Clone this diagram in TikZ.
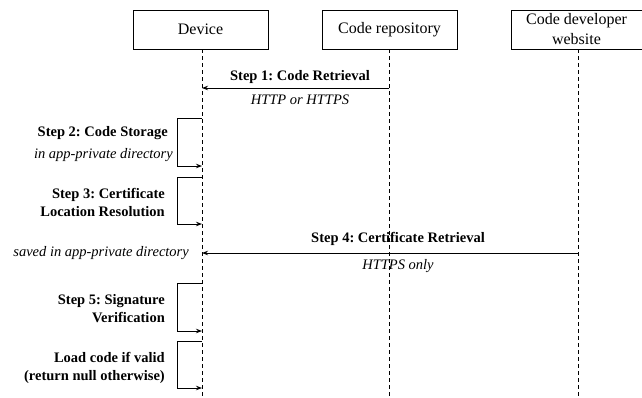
\documentclass[tikz,border=0pt]{standalone}
\usepackage{fontspec}
\setmainfont{Liberation Serif}
\usetikzlibrary{arrows.meta}
\frenchspacing
\begin{document}
\begin{tikzpicture}[x=1pt,y=-1pt,
  actor/.style={draw,line width=0.9pt,minimum width=135pt,minimum height=39pt,inner sep=0pt,align=center,font=\fontsize{16}{20}\selectfont},
  lifeline/.style={line width=0.9pt,dash pattern=on 4pt off 3pt},
  msg/.style={line width=0.9pt,-{Stealth[length=6pt,width=4.5pt]}},
  steplabel/.style={font=\fontsize{14.5}{18}\selectfont\bfseries,inner sep=0pt},
  note/.style={font=\fontsize{14.5}{18}\selectfont\itshape,inner sep=0pt},
  sidelabel/.style={font=\fontsize{14.5}{18}\selectfont\bfseries,inner sep=0pt,align=right,anchor=east}
]
\useasboundingbox (0,0) rectangle (642,397);
% actors
\node[actor] (dev) at (200.5,29.5) {Device};
\node[actor] (repo) at (389.5,29.5) {Code repository};
\node[actor,minimum width=131pt] (web) at (576.5,29.5) {Code developer\\website};
% lifelines
\coordinate (devb) at (202,397);
\coordinate (repob) at (389,397);
\coordinate (webb) at (578,397);
\draw[lifeline] (dev.south -| devb) -- (devb);
\draw[lifeline] (repo.south -| repob) -- (repob);
\draw[lifeline] (web.south -| webb) -- (webb);
% Step 1
\coordinate (s1a) at (389,88);
\coordinate (s1b) at (202,88);
\draw[msg] (s1a) -- (s1b);
\node[steplabel] (s1t) at (300,77) {Step 1: Code Retrieval};
\node[note] (s1n) at (300,100) {HTTP or HTTPS};
% Step 2
\coordinate (s2a) at (202,118);
\coordinate (s2b) at (202,166);
\draw[msg] (s2a) -- (177,118) -- (177,166) -- (s2b);
\node[steplabel,anchor=east] (s2t) at (168,133) {Step 2: Code Storage};
\node[note,anchor=east] (s2n) at (173,155) {in app-private directory};
% Step 3
\coordinate (s3a) at (202,177);
\coordinate (s3b) at (202,224);
\draw[msg] (s3a) -- (177,177) -- (177,224) -- (s3b);
\node[sidelabel] (s3t) at (165,202) {Step 3: Certificate\\Location Resolution};
% Step 4
\coordinate (s4a) at (578,253);
\coordinate (s4b) at (202,253);
\draw[msg] (s4a) -- (s4b);
\node[steplabel] (s4t) at (398,239) {Step 4: Certificate Retrieval};
\node[note] (s4n) at (398,266) {HTTPS only};
\node[note,anchor=east] (s4s) at (189,253) {saved in app-private directory};
% Step 5
\coordinate (s5a) at (202,283);
\coordinate (s5b) at (202,331);
\draw[msg] (s5a) -- (177,283) -- (177,331) -- (s5b);
\node[sidelabel] (s5t) at (165,309) {Step 5: Signature\\Verification};
% Load
\coordinate (s6a) at (202,341);
\coordinate (s6b) at (202,388);
\draw[msg] (s6a) -- (177,341) -- (177,388) -- (s6b);
\node[sidelabel] (s6t) at (165,368) {Load code if valid\\(return null otherwise)};
\end{tikzpicture}
\end{document}
